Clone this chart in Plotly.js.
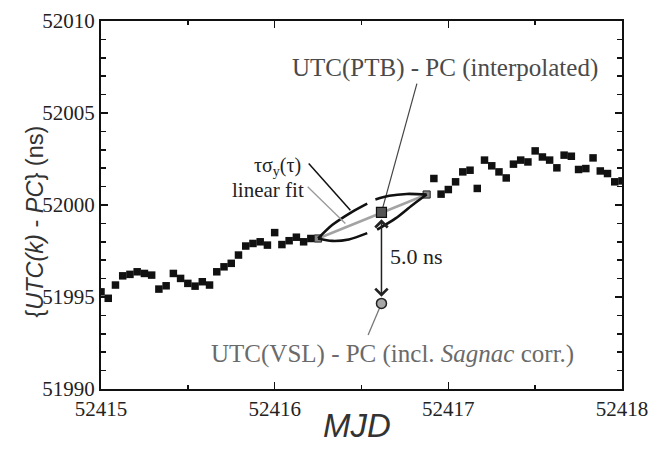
<!DOCTYPE html>
<html><head><meta charset="utf-8">
<script src="https://cdn.plot.ly/plotly-3.0.1.min.js"></script>
<style>html,body{margin:0;padding:0;background:#fff}#chart{width:650px;height:460px}</style>
</head><body><div id="chart"></div>
<script>
// hourly UTC(k) - PC values (MJD, ns)
const mjdLeft = [52415.0000, 52415.0417, 52415.0833, 52415.1250, 52415.1667, 52415.2083, 52415.2500, 52415.2917,
  52415.3333, 52415.3750, 52415.4167, 52415.4583, 52415.5000, 52415.5417, 52415.5833, 52415.6250,
  52415.6667, 52415.7083, 52415.7500, 52415.7917, 52415.8333, 52415.8750, 52415.9167, 52415.9583,
  52416.0000, 52416.0417, 52416.0833, 52416.1250, 52416.1667, 52416.2083, 52416.2500];
const valLeft = [51995.28, 51994.93, 51995.65, 51996.15, 51996.23, 51996.37, 51996.28, 51996.19,
  51995.43, 51995.61, 51996.28, 51996.01, 51995.74, 51995.59, 51995.83, 51995.65,
  51996.37, 51996.64, 51996.83, 51997.28, 51997.77, 51997.91, 51998.00, 51997.82,
  51998.50, 51997.85, 51998.06, 51998.25, 51998.00, 51998.18, 51998.18];
const mjdRight = [52416.8750, 52416.9167, 52416.9583, 52417.0000, 52417.0417, 52417.0833, 52417.1250,
  52417.1667, 52417.2083, 52417.2500, 52417.2917, 52417.3333, 52417.3750, 52417.4167, 52417.4583,
  52417.5000, 52417.5417, 52417.5833, 52417.6250, 52417.6667, 52417.7083, 52417.7500, 52417.7917,
  52417.8333, 52417.8750, 52417.9167, 52417.9583, 52418.0000];
const valRight = [52000.57, 52001.44, 52000.59, 52000.84, 52001.26, 52001.80, 52001.89,
  52000.90, 52002.44, 52002.13, 52001.80, 52001.47, 52002.22, 52002.44, 52002.34,
  52002.94, 52002.61, 52002.44, 52002.02, 52002.71, 52002.65, 52001.93, 52001.98,
  52002.56, 52001.85, 52001.71, 52001.26, 52001.31];

// linear fit between the two bracketing points
const fitMJD = [52416.25, 52416.875];
const fitVal = [51998.18, 52000.57];

// tau*sigma_y(tau) envelope (null = gap)
const upperArcMJD = [52416.25, 52416.331, 52416.446, 52416.533, null, 52416.580, 52416.660, 52416.760, 52416.875];
const upperArcVal = [51998.18, 51998.91, 51999.63, 52000.08, null, 52000.30, 52000.50, 52000.60, 52000.57];
const lowerArcMJD = [52416.25, 52416.331, 52416.427, 52416.533, null, 52416.590, 52416.696, 52416.792, 52416.875];
const lowerArcVal = [51998.18, 51998.05, 51998.13, 51998.47, null, 51998.66, 51999.27, 51999.99, 52000.57];

// interpolated UTC(PTB) - PC and UTC(VSL) - PC
const ptbMJD = [52416.615];
const ptbVal = [51999.60];
const vslMJD = [52416.615];
const vslVal = [51994.65];
const diffLabel = '5.0 ns';

const xTicks = [52415, 52416, 52417, 52418];
const yTicks = [51990, 51995, 52000, 52005, 52010];

const serif = 'Liberation Serif, Times New Roman, serif';
const sans = 'Liberation Sans, Arial, sans-serif';

const traces = [
  {x: mjdLeft, y: valLeft, mode: 'markers', type: 'scatter',
   marker: {symbol: 'square', size: 7.5, color: '#111'}},
  {x: mjdRight, y: valRight, mode: 'markers', type: 'scatter',
   marker: {symbol: 'square', size: 7.5, color: '#111'}},
  {x: fitMJD, y: fitVal, mode: 'lines+markers', type: 'scatter',
   line: {color: '#a3a3a3', width: 2.5},
   marker: {symbol: 'square', size: 7, color: '#888', line: {color: '#333', width: 1}}},
  {x: upperArcMJD, y: upperArcVal, mode: 'lines', type: 'scatter', connectgaps: false,
   line: {color: '#111', width: 2.6, shape: 'spline', smoothing: 0.8}},
  {x: lowerArcMJD, y: lowerArcVal, mode: 'lines', type: 'scatter', connectgaps: false,
   line: {color: '#111', width: 2.6, shape: 'spline', smoothing: 0.8}},
  {x: ptbMJD, y: ptbVal, mode: 'markers', type: 'scatter',
   marker: {symbol: 'square', size: 10, color: '#555', line: {color: '#111', width: 1.2}}},
  {x: vslMJD, y: vslVal, mode: 'markers', type: 'scatter', cliponaxis: false,
   marker: {symbol: 'circle', size: 10, color: '#a8a8a8', line: {color: '#222', width: 1.5}}}
];

const axisCommon = {
  showgrid: false, zeroline: false, showline: true, linecolor: '#111', linewidth: 2,
  mirror: 'ticks', ticks: 'inside', tickcolor: '#111', tickwidth: 1.5,
  tickfont: {family: serif, size: 21, color: '#222'}
};

const layout = {
  width: 650, height: 460,
  margin: {l: 101, r: 28, t: 21, b: 71},
  paper_bgcolor: '#fff', plot_bgcolor: '#fff',
  showlegend: false,
  xaxis: Object.assign({}, axisCommon, {
    range: [52415, 52418], tickvals: xTicks, ticktext: xTicks.map(String), ticklen: 7,
    minor: {dtick: 0.5, ticks: 'inside', ticklen: 4, tickcolor: '#111', tickwidth: 1.5}
  }),
  yaxis: Object.assign({}, axisCommon, {
    range: [51990, 52010], tickvals: yTicks, ticktext: yTicks.map(String), ticklen: 7,
    minor: {dtick: 1, ticks: 'inside', ticklen: 5, tickcolor: '#111', tickwidth: 1.5}
  }),
  shapes: [
    {type: 'line', xref: 'x', yref: 'y', x0: 52416.819, y0: 52006.60, x1: ptbMJD[0], y1: ptbVal[0],
     line: {color: '#444', width: 1.2}, layer: 'below'},
    {type: 'line', xref: 'x', yref: 'y', x0: 52416.196, y0: 52002.26, x1: 52416.436, y1: 51999.72,
     line: {color: '#111', width: 1.5}},
    {type: 'line', xref: 'x', yref: 'y', x0: 52416.190, y0: 52000.99, x1: 52416.407, y1: 51998.99,
     line: {color: '#999', width: 1.3}},
    {type: 'line', xref: 'x', yref: 'y', x0: vslMJD[0], y0: vslVal[0], x1: 52416.538, y1: 51992.93,
     line: {color: '#777', width: 1.3}, layer: 'below'}
  ],
  annotations: [
    {xref: 'x', yref: 'y', axref: 'x', ayref: 'y', x: ptbMJD[0], y: ptbVal[0] - 0.38,
     ax: vslMJD[0], ay: vslVal[0] + 0.28, text: '', showarrow: true, arrowside: 'end+start',
     arrowhead: 4, startarrowhead: 4, arrowsize: 1.6, startarrowsize: 1.6, arrowwidth: 1.5,
     arrowcolor: '#222', standoff: 0, startstandoff: 0},
    {xref: 'x', yref: 'y', x: 52416.978, y: 52007.43, text: 'UTC(PTB) - PC (interpolated)',
     showarrow: false, font: {family: serif, size: 25, color: '#4a4a4a'}},
    {xref: 'x', yref: 'y', x: 52416.017, y: 52002.1, text: 'τσ<sub>y</sub>(τ)',
     showarrow: false, font: {family: serif, size: 20, color: '#222'}},
    {xref: 'x', yref: 'y', x: 52415.964, y: 52000.80, text: 'linear fit',
     showarrow: false, font: {family: serif, size: 21, color: '#222'}},
    {xref: 'x', yref: 'y', x: 52416.818, y: 51997.22, text: diffLabel,
     showarrow: false, font: {family: serif, size: 22, color: '#222'}},
    {xref: 'x', yref: 'y', x: 52416.678, y: 51991.91, text: 'UTC(VSL) - PC (incl. <i>Sagnac</i> corr.)',
     showarrow: false, font: {family: serif, size: 25, color: '#6a6a6a'}},
    {xref: 'paper', yref: 'paper', x: -0.156, y: 0.454, textangle: -90, showarrow: false,
     text: '{<i>UTC(k)</i> - <i>PC</i>} (ns)', font: {family: sans, size: 23.5, color: '#333'}},
    {xref: 'paper', yref: 'paper', x: 0.492, y: -0.098, yanchor: 'middle', showarrow: false,
     text: '<i>MJD</i>', font: {family: sans, size: 33, color: '#333'}}
  ]
};

Plotly.newPlot('chart', traces, layout, {displayModeBar: false, staticPlot: true});
</script>
</body></html>
